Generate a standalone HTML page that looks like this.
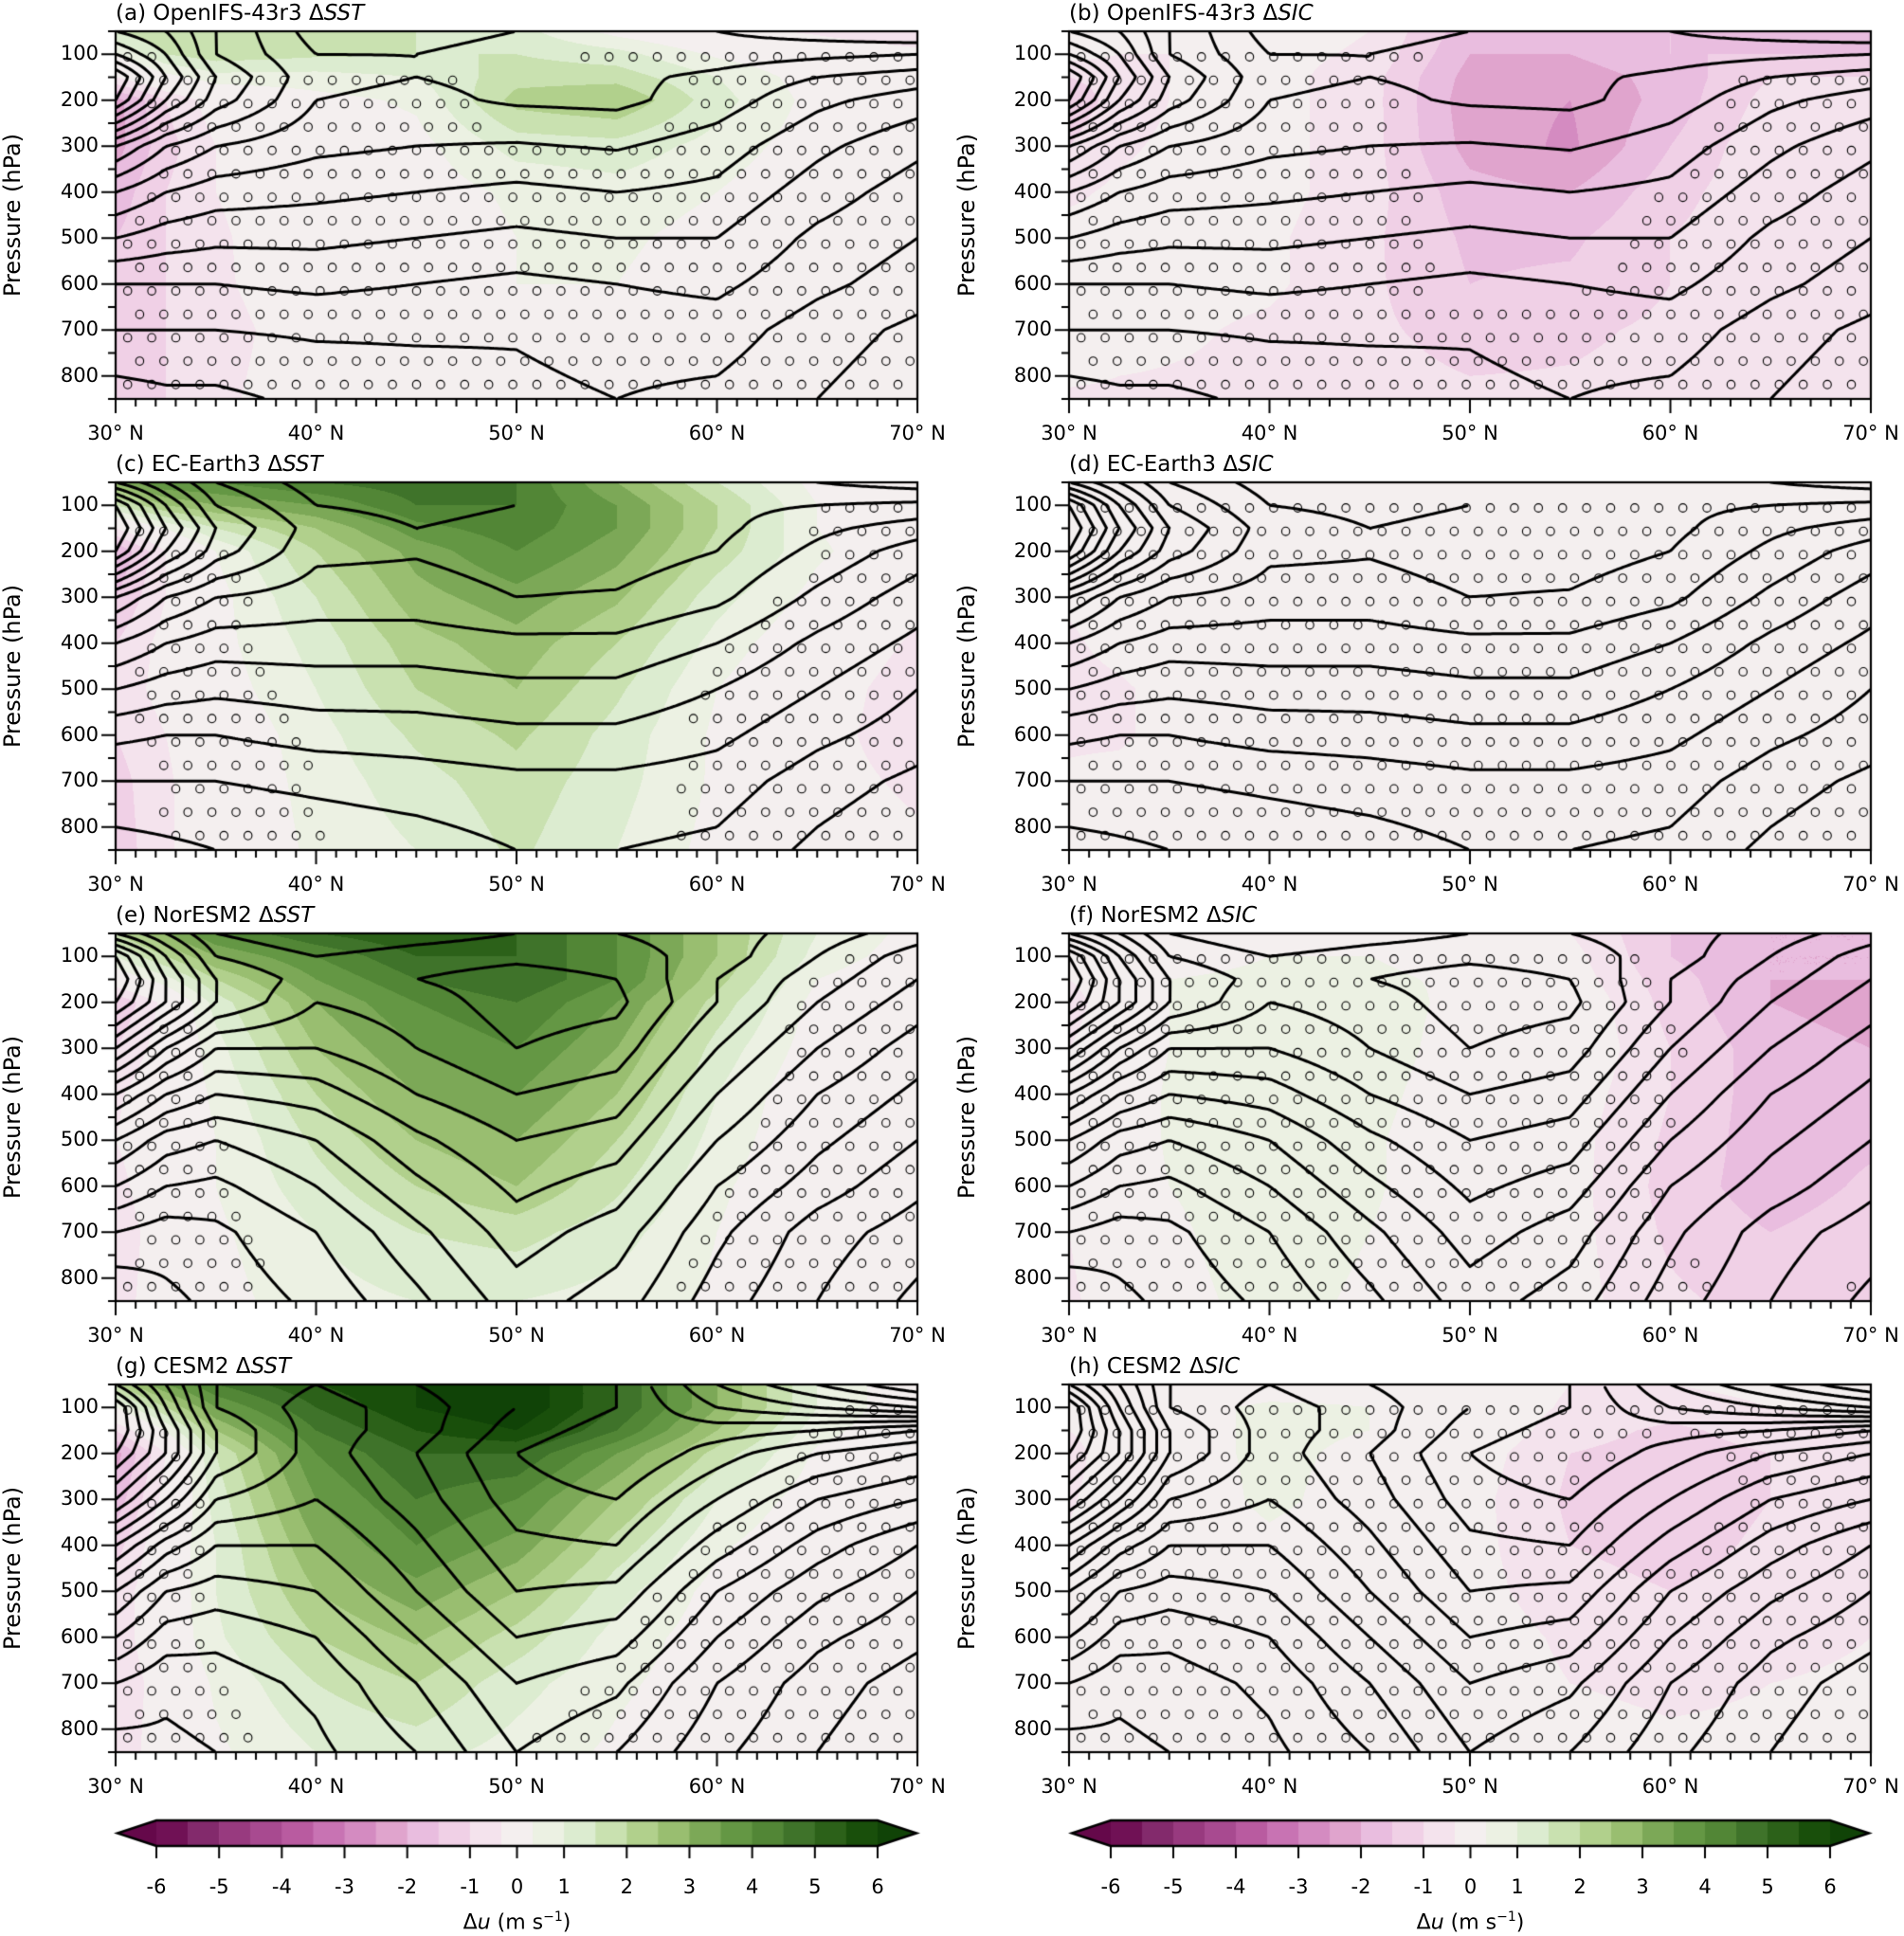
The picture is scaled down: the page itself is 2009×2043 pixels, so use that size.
<!DOCTYPE html>
<html><head><meta charset="utf-8">
<style>
html,body{margin:0;padding:0;background:#fff;}
#fig{position:relative;width:2009px;height:2043px;overflow:hidden;font-family:"DejaVu Sans","Liberation Sans",sans-serif;color:#000;}
canvas{position:absolute;}
.t{position:absolute;white-space:nowrap;line-height:1;}
</style></head>
<body>
<div id="fig"></div>
<script>
// ---- data ----
const LAT=[30,32.5,35,40,45,50,55,60,65,70];
const PRES=[50,100,150,200,300,400,500,600,700,850];
// climatological zonal wind (m/s), rows = PRES, cols = LAT
const U_OIFS=[
[26,24,20,15,15,16,17,18,19,20],
[30,26,20,16,16,17,17.5,17,16.5,16],
[36,28,22,16.5,16,16.5,16.5,15.5,14,13],
[34,26,21,16,15.5,16.3,16.5,15,12.5,11],
[22,18,16,14.5,14,13.8,14.2,13,10.5,8.5],
[16,14,13,12.5,12,11.5,12,11.5,9,7],
[12,11,10.5,10.5,10,9.5,10,10,7.5,6],
[8,8,8,8.5,8,7.5,8,8.5,6.5,5],
[6,6,6,6.3,6.3,6.2,6.8,7,5,3.5],
[3,3.5,3.5,4.5,5,5.5,6,5.5,4,2.5]];
const U_EC=[
[26,22,18,15,15,16,16.5,17,18,19],
[34,26,20,16,15.5,16,16.5,16.5,16,15.5],
[36,28,22,17,16,16.5,17,16.5,14.5,13],
[34,26,21,16.5,16.2,17,17,16,13.5,11],
[22,18,16,15,15,16,15.8,14.5,11.5,9],
[16,14,13,13,13,13.5,13.5,12,9.5,7.5],
[12,11,10.5,11,11,11.5,11.5,10,8,6],
[8.5,8,8,8.8,9,9.5,9.5,8.5,6.5,5],
[6,6,6,6.5,7,7.5,7.5,7,5,3.5],
[3,3.5,4,4.5,5,6,6,5.5,3.5,2]];
const U_NOR=[
[28,24,20,18,19,20,20,19,17,15],
[36,28,22,20,21,21.5,21,19,16,13],
[38,30,24,21,22,23,22,18,15,12],
[36,30,24,20,21,23,22.5,18,14,11],
[28,22,18,18,20,22,21,16,12,9],
[20,16,14,15,18,20,19,14,10,7.5],
[14,11,10,12,15.5,18,17,12,8.5,6],
[10,8,7.5,10,13.5,16.5,15,10,7,4.5],
[6,5,5.5,8,11.5,15,13,8.5,5,3],
[2,3.5,4.5,6.5,9.5,13,11,7,4,1.5]];
const U_CESM=[
[30,24,18,16,18,20,22,28,32,36],
[36,26,18,15,17,20,22,26,28,30],
[36,28,20,15,17,21,23,23,22,20],
[34,28,20,15,18,22,24,21,18,16],
[28,22,16,14,17,21,22,18,14,12],
[20,15,12,12,15.5,19.5,20,15,11,8],
[14,10,9,10,14,18,17.5,12,8.5,6],
[10,7,6.5,8,12,16,15,10,6.5,4.5],
[6,4.5,5,6.5,10,14,12.5,8,5,3],
[3,3.5,4,5.5,8,12,10,6.5,4,2]];
// wind responses du (m/s)
const DU_A=[
[1.5,2.0,2.0,1.8,1.5,1.2,0.3,-0.3,-0.6,-1.0],
[0.5,1.5,1.8,1.6,1.5,1.5,1.2,0.4,0,-0.3],
[-0.5,0.3,0.8,0.8,1.0,1.8,1.8,1.0,0.2,0],
[-2.2,-1.0,-0.2,0.3,0.6,2.2,2.5,1.2,0.3,0],
[-2.2,-1.2,-0.5,0,0.3,1.2,1.3,0.8,0.2,0],
[-1.8,-1.0,-0.5,0,0.2,0.6,0.8,0.5,0,0],
[-1.5,-1.0,-0.6,0,0.1,0.5,0.6,0.3,0,0],
[-1.3,-1.0,-0.6,-0.1,0.1,0.5,0.5,0.2,0,0],
[-1.2,-1.0,-0.7,-0.2,0,0.4,0.4,0.1,0,0],
[-1.3,-1.0,-0.6,-0.2,0,0.4,0.4,0.1,0,0]];
const DU_B=[
[0,-0.3,-0.3,-0.2,-0.5,-1.8,-1.8,-1.5,-2,-2],
[-0.3,-0.5,-0.5,-0.3,-0.6,-2,-2,-1.5,-1.5,-1.5],
[-1.0,-0.8,-0.5,-0.3,-0.8,-2.2,-2.3,-1.8,-1.0,-1.0],
[-1.3,-0.8,-0.5,-0.3,-0.8,-2.3,-2.5,-1.8,-0.8,-0.7],
[-1.0,-0.6,-0.4,-0.3,-0.8,-2.2,-2.6,-1.5,-0.6,-0.5],
[-0.6,-0.4,-0.3,-0.3,-0.8,-1.8,-2.0,-1.2,-0.6,-0.5],
[-0.3,-0.3,-0.3,-0.4,-0.9,-1.6,-1.6,-1.0,-0.6,-0.5],
[0.3,0,-0.3,-0.4,-0.9,-1.5,-1.4,-1.0,-0.6,-0.5],
[0,-0.3,-0.4,-0.6,-0.9,-1.2,-1.1,-0.9,-0.6,-0.5],
[-0.6,-0.6,-0.6,-0.6,-0.8,-0.9,-0.9,-0.8,-0.6,-0.5]];
const DU_C=[
[3,4,4,4.5,4.8,4.5,3,1.5,0.3,-0.2],
[1.5,2.5,3,3.5,4.5,4.5,3.5,2.0,0.5,0],
[-0.5,0.5,1.5,2.5,3.8,4.3,3.5,2.0,0.5,0],
[-2.0,-0.5,0.5,2.0,3.2,4.0,3.2,1.8,0.6,0],
[-1.5,-0.5,0.3,1.5,2.8,3.3,2.6,1.2,0.3,-0.3],
[-1.0,-0.3,0.3,1.2,2.3,2.8,2.0,0.8,0,-0.6],
[-0.8,-0.3,0.2,1.0,2.0,2.5,1.6,0.5,-0.2,-0.8],
[-1.0,-0.5,0,0.8,1.6,2.1,1.3,0.4,-0.3,-0.8],
[-1.2,-0.6,0,0.7,1.3,1.8,1.2,0.4,-0.3,-0.6],
[-1.3,-0.6,0,0.6,1.0,1.6,1.0,0.3,-0.2,-0.4]];
const DU_D=[
[0,0,0,0,0,0,0,0,0,0],
[0,0,0,0,0,0,0,0,0,0],
[-0.3,0,0,0,0,0,0,0,0,0],
[-0.5,-0.2,0,0,0,0,0,0,0,0],
[-0.4,-0.2,0,0,0,0,0,0,0,0],
[-0.6,-0.3,0,0,0,0,0,0,0,0],
[-0.7,-0.6,-0.3,0,0,0,0,0,0,0],
[-0.6,-0.6,-0.3,0,0,0,0,0,0,0],
[-0.4,-0.3,0,0,0,0.2,0.2,0,0,0],
[-0.3,-0.2,0,0,0,0.5,0.3,0,0,0]];
const DU_E=[
[2,3,4,5,5.5,5,4,2.5,1,0.3],
[1,2,3,4,5,5,4,2.5,0.8,0.2],
[0,0.8,2,3.5,4.5,5,4,2.2,0.5,0],
[-1.5,-0.3,1.2,3,4,4.5,3.5,1.8,0.3,0],
[-1.0,-0.2,0.8,2.5,3.5,4,3,1.3,0.2,0],
[-0.6,0,0.6,2,3,3.5,2.5,1.0,0,0],
[-0.5,0,0.5,1.6,2.5,3,2,0.8,0,0],
[-0.7,0,0.5,1.3,2,2.5,1.6,0.6,0,0],
[-0.8,-0.2,0.4,1.0,1.5,1.7,1.2,0.5,0,0],
[-0.7,-0.2,0.3,0.8,1.0,1.0,0.8,0.4,0,0]];
const DU_F=[
[0,0,0,0,0,0,-0.5,-1.5,-2,-2],
[0,0.3,0.3,0.5,0.5,0.3,-0.3,-1.5,-2,-2],
[-0.5,0,0.5,0.6,0.6,0.4,-0.2,-1.3,-2,-2],
[-0.8,0,0.5,0.8,0.8,0.3,0,-1.2,-2,-2.2],
[-0.5,0,0.5,0.9,0.8,0.2,0,-1.0,-1.8,-2],
[-0.3,0,0.6,0.9,0.7,0.1,-0.2,-1.0,-1.8,-1.8],
[-0.3,0,0.6,0.9,0.6,0,-0.3,-1.1,-1.8,-1.6],
[-0.3,0,0.5,0.8,0.6,0,-0.3,-1.2,-1.8,-1.4],
[-0.5,0,0.4,0.8,0.5,0,-0.3,-1.1,-1.5,-1.2],
[-0.6,-0.2,0.3,0.7,0.4,0,-0.3,-0.9,-1.2,-1.0]];
const DU_G=[
[2,3.5,4.5,5.5,6,6.5,5,3,1,0],
[0.5,2,3.5,5,6,6.5,5,3,1,0],
[-1,0.5,2.5,4.5,5.5,6,4.5,2.5,0.7,0],
[-2.2,-0.5,1.5,4,5,5,3.5,1.8,0.4,0],
[-1.8,-0.3,1.2,3.5,4.5,4,2.5,1.0,0.2,0],
[-1.2,0,1.0,3,4,3.3,1.8,0.6,0,0],
[-0.8,0,1.0,2.5,3.3,2.5,1.2,0.3,0,-0.3],
[-0.8,0,0.9,2,2.6,1.8,0.8,0.2,0,-0.4],
[-0.9,-0.2,0.6,1.5,2,1.2,0.6,0.2,0,-0.3],
[-0.8,-0.2,0.4,1.0,1.2,0.8,0.4,0.1,0,-0.2]];
const DU_H=[
[0,0,0,0.2,0.3,0,-0.5,-0.5,-0.3,0],
[0,0.2,0.3,0.6,0.5,0,-0.6,-0.8,-0.5,-0.3],
[-0.5,0,0.3,0.6,0.5,0,-0.8,-1.1,-0.8,-0.5],
[-0.8,0,0.3,0.6,0.4,-0.2,-1.0,-1.2,-1.0,-0.6],
[-0.6,0,0.2,0.6,0.3,-0.3,-1.1,-1.3,-1.0,-0.6],
[-0.4,0,0.2,0.4,0.2,-0.3,-1.0,-1.2,-0.9,-0.6],
[-0.3,0,0.1,0.3,0.1,-0.3,-0.8,-1.0,-0.8,-0.6],
[-0.3,0,0,0.2,0,-0.2,-0.6,-0.8,-0.7,-0.5],
[-0.4,-0.2,0,0,0,-0.2,-0.5,-0.6,-0.5,-0.4],
[-0.5,-0.3,0,0,0,-0.1,-0.3,-0.4,-0.4,-0.3]];
const CONTOUR_LEVELS=[2,4,6,8,10,12,14,16,18,20,22,24,26,28,30,32,34,36,38,40];
const FILL_BOUNDS=[-6,-5.5,-5,-4.5,-4,-3.5,-3,-2.5,-2,-1.5,-1,-0.5,0.5,1,1.5,2,2.5,3,3.5,4,4.5,5,5.5,6];
const CBAR_TICKS=[-6,-5,-4,-3,-2,-1,0,1,2,3,4,5,6];
const Y_TICKS=[100,200,300,400,500,600,700,800];
const X_TICKS=[30,40,50,60,70];

const PANELS=[
 {lab:'(a) OpenIFS-43r3',v:'SST',c:0,r:0,U:U_OIFS,D:DU_A,thr:1.4},
 {lab:'(b) OpenIFS-43r3',v:'SIC',c:1,r:0,U:U_OIFS,D:DU_B,thr:1.3},
 {lab:'(c) EC-Earth3',v:'SST',c:0,r:1,U:U_EC,D:DU_C,thr:0.7},
 {lab:'(d) EC-Earth3',v:'SIC',c:1,r:1,U:U_EC,D:DU_D,thr:2},
 {lab:'(e) NorESM2',v:'SST',c:0,r:2,U:U_NOR,D:DU_E,thr:0.6},
 {lab:'(f) NorESM2',v:'SIC',c:1,r:2,U:U_NOR,D:DU_F,thr:1.1},
 {lab:'(g) CESM2',v:'SST',c:0,r:3,U:U_CESM,D:DU_G,thr:0.8},
 {lab:'(h) CESM2',v:'SIC',c:1,r:3,U:U_CESM,D:DU_H,thr:1.1}];

// ---- layout / style ----
const LEFTS=[122,1128], TOPS=[33,509,985,1461], PW=846, PH=388;
const fig=document.getElementById('fig');
function xScale(lat){return (lat-30)/40*PW;}
function yScale(p){return (p-50)/800*PH;}

const BIN_HEX=['#701155','#832a6c','#983a7f','#a84a90','#b95ba0','#c873b3','#d48bc1','#e0a4cd','#e9bddf','#f0d0e6','#f4e3ed','#f4efef','#ecf1e3','#dcecd0','#c9e1b0','#b1d08c','#99be70','#7ca857','#649744','#528636','#3f732a','#2c6119','#194f0b'];
function hex(h){return [parseInt(h.slice(1,3),16),parseInt(h.slice(3,5),16),parseInt(h.slice(5,7),16)];}
const BIN_COL=BIN_HEX.map(hex);
const NB=FILL_BOUNDS.length-1;
const LOW_COL=hex('#65084a'),HIGH_COL=hex('#104307');
function colorFor(v){if(v<FILL_BOUNDS[0])return LOW_COL;if(v>=FILL_BOUNDS[NB])return HIGH_COL;
 for(let i=0;i<NB;i++)if(v<FILL_BOUNDS[i+1])return BIN_COL[i];return HIGH_COL;}

function seg(arr,v){for(let i=0;i<arr.length-2;i++)if(v<=arr[i+1])return i;return arr.length-2;}
function interp(G,lat,p){const i=seg(LAT,lat),j=seg(PRES,p);
 const fx=Math.max(0,Math.min(1,(lat-LAT[i])/(LAT[i+1]-LAT[i]))),fy=Math.max(0,Math.min(1,(p-PRES[j])/(PRES[j+1]-PRES[j])));
 return G[j][i]*(1-fx)*(1-fy)+G[j][i+1]*fx*(1-fy)+G[j+1][i]*(1-fx)*fy+G[j+1][i+1]*fx*fy;}
function latOf(x){return 30+x/PW*40;} function pOf(y){return 50+y/PH*800;}

function addText(txt,x,y,size,name,opts){
 const d=document.createElement('div');d.className='t';d.innerHTML=txt;
 d.style.fontSize=size+'px';d.style.left=x+'px';d.style.top=y+'px';
 if(opts&&opts.tf)d.style.transform=opts.tf;
 
 
 fig.appendChild(d);return d;}

PANELS.forEach(P=>{
 const L=LEFTS[P.c],T=TOPS[P.r];
 const cv=document.createElement('canvas');cv.width=PW+40;cv.height=PH+40;
 cv.style.left=(L-20)+'px';cv.style.top=(T-20)+'px';
 
 
 fig.appendChild(cv);
 const ctx=cv.getContext('2d');
 const img=ctx.createImageData(PW,PH);
 for(let y=0;y<PH;y++){const p=pOf(y+0.5);for(let x=0;x<PW;x++){const c=colorFor(interp(P.D,latOf(x+0.5),p));
  const o=(y*PW+x)*4;img.data[o]=c[0];img.data[o+1]=c[1];img.data[o+2]=c[2];img.data[o+3]=255;}}
 ctx.putImageData(img,20,20);
 ctx.save();ctx.beginPath();ctx.rect(20,20,PW,PH);ctx.clip();
 ctx.strokeStyle='#000';ctx.lineWidth=1.1;
 let row=0;
 for(let y=2.3;y<PH;y+=24.7,row++){if(y<5||y>PH-4)continue;const off=(row%2)?12.7:0;
  for(let x=off;x<PW;x+=25.4){if(x<5||x>PW-4)continue;
   if(Math.abs(interp(P.D,latOf(x),pOf(y)))<P.thr){ctx.beginPath();ctx.ellipse(20+x,20+y,4.2,4.4,0,0,Math.PI*2);ctx.stroke();}}}
 const s=3,nx=Math.ceil(PW/s)+1,ny=Math.ceil(PH/s)+1;const F=[];
 for(let j=0;j<ny;j++){const r=[];const p=pOf(Math.min(PH,j*s));for(let i=0;i<nx;i++)r.push(interp(P.U,latOf(Math.min(PW,i*s)),p));F.push(r);}
 ctx.lineWidth=3;ctx.lineCap='round';ctx.lineJoin='round';ctx.strokeStyle='#000';
 CONTOUR_LEVELS.forEach(lv=>{ctx.beginPath();
  for(let j=0;j<ny-1;j++)for(let i=0;i<nx-1;i++){
   const v0=F[j][i],v1=F[j][i+1],v2=F[j+1][i+1],v3=F[j+1][i];
   const x0=20+i*s,y0=20+j*s,pts=[];
   if((v0-lv)*(v1-lv)<0)pts.push([x0+s*(lv-v0)/(v1-v0),y0]);
   if((v1-lv)*(v2-lv)<0)pts.push([x0+s,y0+s*(lv-v1)/(v2-v1)]);
   if((v3-lv)*(v2-lv)<0)pts.push([x0+s*(lv-v3)/(v2-v3),y0+s]);
   if((v0-lv)*(v3-lv)<0)pts.push([x0,y0+s*(lv-v0)/(v3-v0)]);
   for(let k=0;k+1<pts.length;k+=2){ctx.moveTo(pts[k][0],pts[k][1]);ctx.lineTo(pts[k+1][0],pts[k+1][1]);}}
  ctx.stroke();});
 ctx.restore();
 ctx.strokeStyle='#000';ctx.lineWidth=2.2;ctx.strokeRect(20,20,PW,PH);
 ctx.lineWidth=2;ctx.beginPath();
 for(let lat=30;lat<=70;lat++){const x=20+xScale(lat),len=(lat%10===0)?15:8;ctx.moveTo(x,20+PH);ctx.lineTo(x,20+PH+len);}
 for(let p=50;p<=850;p+=50){const y=20+yScale(p),len=(p%100===0)?15:8;ctx.moveTo(20,y);ctx.lineTo(20-len,y);}
 ctx.stroke();
 addText(P.lab+' Δ<i>'+P.v+'</i>',L,T-30,23,'panel-title');
 Y_TICKS.forEach(p=>{addText(String(p),L-18,T+yScale(p)-11,21,'y-tick-label',{tf:'translateX(-100%)'});});
 X_TICKS.forEach(lat=>{addText(lat+'° N',L+xScale(lat),T+PH+26,21,'x-tick-label',{tf:'translateX(-50%)'});});
 addText('Pressure (hPa)',(P.c?1020:13),T+PH/2,24,'y-axis-title',{tf:'translate(-50%,-50%) rotate(-90deg)'});
});

[[124,967],[1131,1972]].forEach((cb,ci)=>{
 const x0=cb[0],x1=cb[1],ar=41,bx0=x0+ar,bx1=x1-ar,top=1921,h=27,w=bx1-bx0;
 const cv=document.createElement('canvas');cv.width=(x1-x0)+20;cv.height=70;
 cv.style.left=(x0-10)+'px';cv.style.top=(top-10)+'px';
 
 
 fig.appendChild(cv);
 const ctx=cv.getContext('2d');const ox=10,oy=10,bw=w/NB;
 for(let i=0;i<NB;i++){const c=BIN_COL[i];ctx.fillStyle='rgb('+c+')';ctx.fillRect(ox+ar+i*bw,oy,bw+0.6,h);}
 ctx.fillStyle='rgb('+LOW_COL+')';ctx.beginPath();ctx.moveTo(ox+ar,oy);ctx.lineTo(ox,oy+h/2);ctx.lineTo(ox+ar,oy+h);ctx.fill();
 ctx.fillStyle='rgb('+HIGH_COL+')';ctx.beginPath();ctx.moveTo(ox+ar+w,oy);ctx.lineTo(ox+ar+w+ar,oy+h/2);ctx.lineTo(ox+ar+w,oy+h);ctx.fill();
 ctx.strokeStyle='#000';ctx.lineWidth=2.5;ctx.beginPath();
 ctx.moveTo(ox+ar,oy);ctx.lineTo(ox+ar+w,oy);ctx.lineTo(ox+2*ar+w,oy+h/2);ctx.lineTo(ox+ar+w,oy+h);ctx.lineTo(ox+ar,oy+h);ctx.lineTo(ox,oy+h/2);ctx.closePath();ctx.stroke();
 function tpos(v){if(v===0)return 11.5*bw;const i=FILL_BOUNDS.indexOf(v);return i*bw;}
 ctx.lineWidth=2;ctx.beginPath();
 CBAR_TICKS.forEach(v=>{const x=ox+ar+tpos(v);ctx.moveTo(x,oy+h);ctx.lineTo(x,oy+h+13);});ctx.stroke();
 CBAR_TICKS.forEach(v=>{addText(String(v),bx0+tpos(v),1981,21,'colorbar-tick-label',{tf:'translateX(-50%)'});});
 addText('Δ<i>u</i> (m s<sup style="font-size:14px">−1</sup>)',(x0+x1)/2,2016,22,'colorbar-label',{tf:'translateX(-50%)'});
});
</script>
</body></html>
